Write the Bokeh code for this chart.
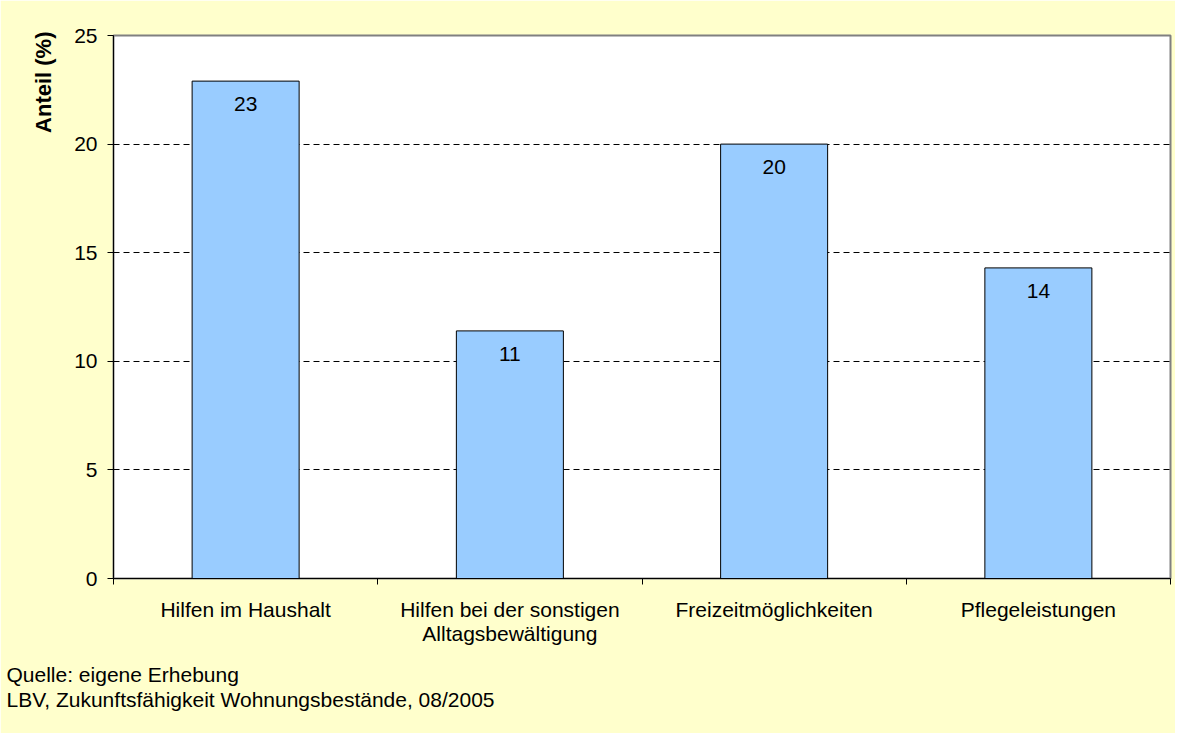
from bokeh.plotting import figure
from bokeh.models import Range1d, FixedTicker, Title, ColumnDataSource
from bokeh.core.properties import value
from bokeh.embed import file_html
from bokeh.resources import INLINE

categories = ["Hilfen im Haushalt", "Hilfen bei der sonstigen\nAlltagsbewältigung",
              "Freizeitmöglichkeiten", "Pflegeleistungen"]
values = [22.9, 11.4, 20.0, 14.3]
value_labels = ["23", "11", "20", "14"]
y_ticks = [0, 5, 10, 15, 20, 25]
y_axis_title = "Anteil (%)"
footer = ["Quelle: eigene Erhebung", "LBV, Zukunftsfähigkeit Wohnungsbestände, 08/2005"]

FONT = "Liberation Sans"
FS = "21px"
xs = [i + 0.5 for i in range(len(categories))]
src = ColumnDataSource(dict(x=xs, top=values, lab=value_labels))

p = figure(width=1175, height=733, output_backend="svg", toolbar_location=None,
           x_range=Range1d(0, len(categories)), y_range=Range1d(0, 25),
           min_border_left=113, min_border_top=35, min_border_right=5, min_border_bottom=155)
p.background_fill_color = "white"
p.border_fill_color = "#FFFFCC"
p.outline_line_color = "#808080"
p.outline_line_width = 2

p.vbar(x="x", top="top", width=0.405, source=src, fill_color="#99CCFF",
       line_color="black", line_width=1)
p.text(x="x", y="top", text="lab", source=src, text_align="center", text_baseline="top",
       y_offset=16, text_font=value(FONT), text_font_size=FS, text_color="black")

# x axis
p.xaxis.ticker = FixedTicker(ticks=xs, minor_ticks=list(range(len(categories) + 1)))
p.xaxis.major_label_overrides = {x: c for x, c in zip(xs, categories)}
p.xaxis.major_tick_line_color = None
p.xaxis.major_tick_out = 0
p.xaxis.major_tick_in = 0
p.xaxis.minor_tick_out = 6
p.xaxis.minor_tick_in = 0
p.xaxis.minor_tick_line_color = "black"
p.xaxis.major_label_standoff = 13
p.xaxis.major_label_text_line_height = 1.05
p.xaxis.axis_line_color = "black"

# y axis
p.yaxis.ticker = FixedTicker(ticks=y_ticks)
p.yaxis.minor_tick_line_color = None
p.yaxis.major_tick_out = 6
p.yaxis.major_tick_in = 0
p.yaxis.major_label_standoff = 10
p.yaxis.axis_line_color = "black"

for ax in (p.xaxis[0], p.yaxis[0]):
    ax.major_label_text_font = FONT
    ax.major_label_text_font_size = FS
    ax.major_label_text_color = "black"

p.xgrid.grid_line_color = None
p.ygrid.ticker = FixedTicker(ticks=y_ticks[1:-1])
p.ygrid.grid_line_color = "black"
p.ygrid.grid_line_dash = "6 4"
p.ygrid.grid_line_width = 1

p.add_layout(Title(text=y_axis_title, align="right", offset=-4, standoff=31,
                   text_font=FONT, text_font_size="22px", text_font_style="bold",
                   text_color="black"), "left")
p.add_layout(Title(text="\n".join(footer), align="left", offset=-107, standoff=28,
                   vertical_align="bottom",
                   text_font=FONT, text_font_size=FS, text_font_style="normal",
                   text_color="black", text_line_height=1.1), "below")

open("out.html", "w").write(file_html(p, INLINE))
